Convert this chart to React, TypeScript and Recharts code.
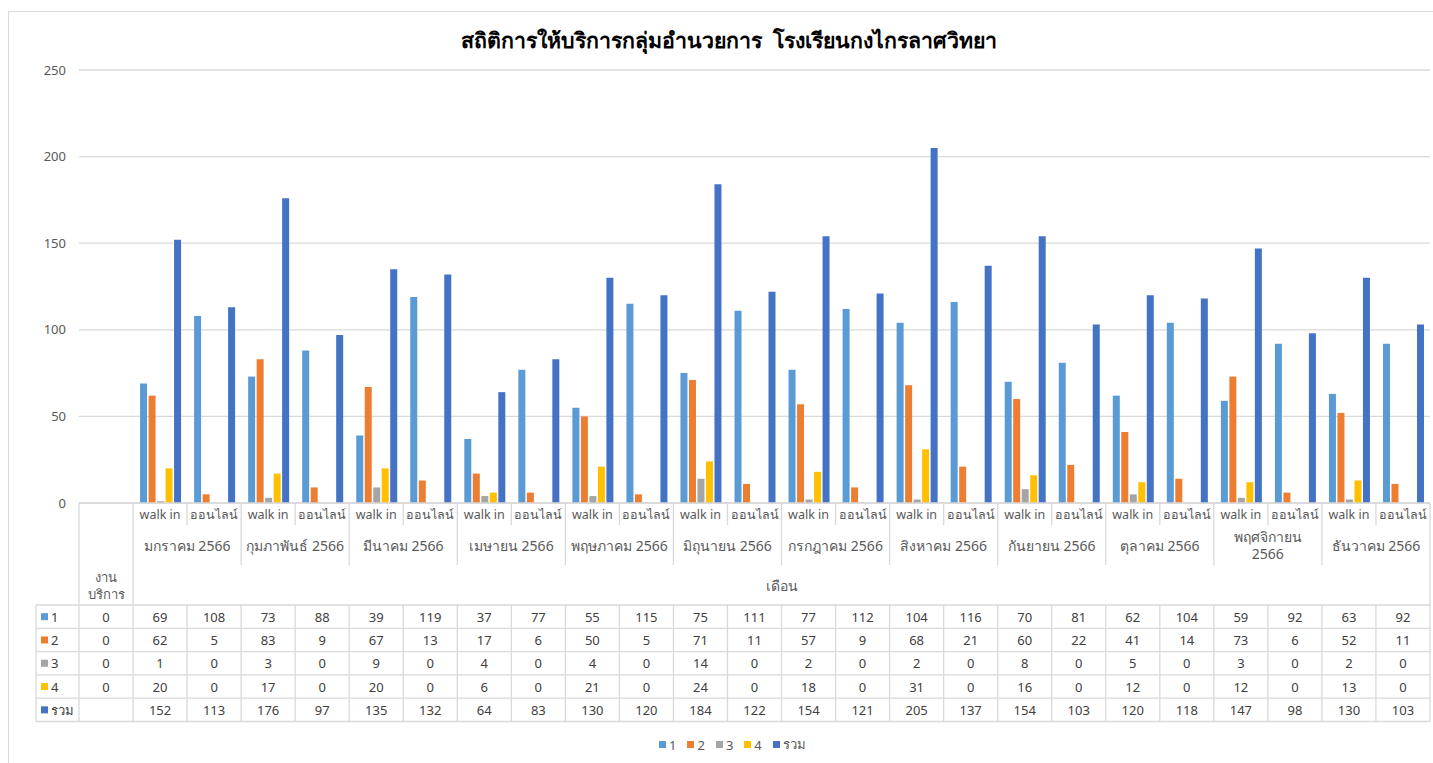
import React from 'react';
import { BarChart, Bar, XAxis, YAxis, CartesianGrid } from 'recharts';

const title = 'สถิติการให้บริการกลุ่มอำนวยการ  โรงเรียนกงไกรลาศวิทยา';
const firstCategory = 'งานบริการ';
const firstCategoryLines = ['งาน', 'บริการ'];
const groupLabel = 'เดือน';
const months = [
  'มกราคม 2566', 'กุมภาพันธ์ 2566', 'มีนาคม 2566', 'เมษายน 2566', 'พฤษภาคม 2566', 'มิถุนายน 2566',
  'กรกฎาคม 2566', 'สิงหาคม 2566', 'กันยายน 2566', 'ตุลาคม 2566', 'พฤศจิกายน 2566', 'ธันวาคม 2566',
];
const channels = ['walk in', 'ออนไลน์'];
const yTicks = [0, 50, 100, 150, 200, 250];

const seriesNames = ['1', '2', '3', '4', 'รวม'];
const seriesColors = ['#5B9BD5', '#ED7D31', '#A5A5A5', '#FFC000', '#4472C4'];

const series1 = [0, 69, 108, 73, 88, 39, 119, 37, 77, 55, 115, 75, 111, 77, 112, 104, 116, 70, 81, 62, 104, 59, 92, 63, 92];
const series2 = [0, 62, 5, 83, 9, 67, 13, 17, 6, 50, 5, 71, 11, 57, 9, 68, 21, 60, 22, 41, 14, 73, 6, 52, 11];
const series3 = [0, 1, 0, 3, 0, 9, 0, 4, 0, 4, 0, 14, 0, 2, 0, 2, 0, 8, 0, 5, 0, 3, 0, 2, 0];
const series4 = [0, 20, 0, 17, 0, 20, 0, 6, 0, 21, 0, 24, 0, 18, 0, 31, 0, 16, 0, 12, 0, 12, 0, 13, 0];
const seriesTotal = [null, 152, 113, 176, 97, 135, 132, 64, 83, 130, 120, 184, 122, 154, 121, 205, 137, 154, 103, 120, 118, 147, 98, 130, 103];

const seriesValues = [series1, series2, series3, series4, seriesTotal];
const seriesKeys = ['s1', 's2', 's3', 's4', 'total'];

type Row = { key: string; month: string | null; channel: string; [k: string]: any };

const categories: { month: string | null; channel: string }[] = [{ month: null, channel: firstCategory }];
months.forEach((m) => channels.forEach((c) => categories.push({ month: m, channel: c })));

const data: Row[] = categories.map((c, i) => {
  const row: Row = { key: 'c' + i, month: c.month, channel: c.channel };
  seriesKeys.forEach((k, s) => {
    row[k] = seriesValues[s][i];
  });
  return row;
});

const FONT = '"Noto Sans", "Open Sans", sans-serif';
const CHART_W = 1425;
const CHART_H = 755;
const Y_W = 71;
const M_RIGHT = 3;
const M_TOP = 62;
const X_H = 260;
const COLS = data.length;
const COL_W = (CHART_W - Y_W - M_RIGHT) / COLS;
const ROW_H = 23.3;
const HDR1 = 22;
const HDR2 = 62;
const HDR3 = 102;
const KEY_W = 43;
const GRID = '#d9d9d9';
const TXT = '#595959';
const VAL = '#404040';

let measureCtx: CanvasRenderingContext2D | null = null;
function textWidth(t: string, size: number) {
  if (typeof document === 'undefined') return t.length * size * 0.5;
  if (!measureCtx) measureCtx = document.createElement('canvas').getContext('2d');
  if (!measureCtx) return t.length * size * 0.5;
  measureCtx.font = `${size}px ${FONT}`;
  return measureCtx.measureText(t).width;
}

function wrapLabel(t: string, size: number, maxW: number): string[] {
  if (textWidth(t, size) <= maxW) return [t];
  const idx = t.lastIndexOf(' ');
  if (idx < 0) return [t];
  return [t.slice(0, idx), t.slice(idx + 1)];
}

function TableTick(props: any) {
  const { x, y, payload } = props;
  const i: number = payload.index;
  const d = data[i];
  const left = x - COL_W / 2;
  const right = x + COL_W / 2;
  const tableTop = y + HDR3;
  const tableBottom = tableTop + ROW_H * seriesKeys.length;
  const els: React.ReactNode[] = [];
  const line = (k: string, x1: number, y1: number, x2: number, y2: number) =>
    els.push(<line key={k} x1={x1} y1={y1} x2={x2} y2={y2} stroke={GRID} strokeWidth={1.3} />);

  seriesKeys.forEach((k, r) => {
    const v = d[k];
    els.push(
      <text key={'v' + r} x={x} y={tableTop + ROW_H * (r + 0.5)} textAnchor="middle" dominantBaseline="central"
        fontSize={13} fill={VAL} fontFamily={FONT}>
        {v === null || v === undefined ? '' : v}
      </text>
    );
  });
  line('rb', right, tableTop, right, tableBottom);

  if (i === 0) {
    const keyLeft = left - KEY_W;
    const fullRight = left + COLS * COL_W;
    line('kl', keyLeft, tableTop, keyLeft, tableBottom);
    line('l0', left, y, left, tableBottom);
    line('r0', right, y, right, tableTop);
    for (let r = 0; r <= seriesKeys.length; r++) {
      line('h' + r, keyLeft, tableTop + r * ROW_H, fullRight, tableTop + r * ROW_H);
    }
    seriesNames.forEach((n, r) => {
      const cy = tableTop + ROW_H * (r + 0.5);
      els.push(<rect key={'ks' + r} x={keyLeft + 5} y={cy - 3.5} width={7} height={7} fill={seriesColors[r]} />);
      els.push(
        <text key={'kn' + r} x={keyLeft + 15} y={cy} dominantBaseline="central" fontSize={13} fill={VAL} fontFamily={FONT}>
          {n}
        </text>
      );
    });
    firstCategoryLines.forEach((t, k) => {
      els.push(
        <text key={'fc' + k} x={x} y={y + 74 + k * 17} textAnchor="middle" dominantBaseline="central" fontSize={13}
          fill={TXT} fontFamily={FONT}>
          {t}
        </text>
      );
    });
    const groupCenter = right + ((COLS - 1) * COL_W) / 2;
    els.push(
      <text key="grp" x={groupCenter} y={y + 82} textAnchor="middle" dominantBaseline="central" fontSize={14}
        fill={TXT} fontFamily={FONT}>
        {groupLabel}
      </text>
    );
  } else {
    els.push(
      <text key="ch" x={x} y={y + 11} textAnchor="middle" dominantBaseline="central" fontSize={12.5} fill={TXT}
        fontFamily={FONT}>
        {d.channel}
      </text>
    );
    if (i % 2 === 1) {
      line('sep', right, y, right, y + HDR1);
      const mlines = wrapLabel(d.month as string, 14, 2 * COL_W - 6);
      const cy = y + 42;
      mlines.forEach((t, k) => {
        els.push(
          <text key={'m' + k} x={right} y={cy + (k - (mlines.length - 1) / 2) * 17} textAnchor="middle"
            dominantBaseline="central" fontSize={14} fill={TXT} fontFamily={FONT}>
            {t}
          </text>
        );
      });
    } else {
      line('msep', right, y, right, i === COLS - 1 ? tableTop : y + HDR2);
    }
  }
  return <g>{els}</g>;
}

export default function App() {
  return (
    <div style={{ position: 'fixed', left: 0, top: 0, width: 1433, height: 763, overflow: 'hidden', background: '#fff' }}>
      <div style={{ position: 'absolute', left: 8, top: 8, width: CHART_W, height: CHART_H, overflow: 'hidden', fontFamily: FONT, background: '#fff' }}>
        <div style={{ position: 'absolute', left: 0, top: 3, width: CHART_W + 10, height: CHART_H + 10, borderLeft: `1px solid ${GRID}`, borderTop: `1px solid ${GRID}` }} />
        <div style={{ position: 'absolute', left: 0, top: 19, width: 1442, textAlign: 'center', fontSize: 21.3, lineHeight: '26px', color: '#000', fontWeight: 600, whiteSpace: 'pre' }}>
          {title}
        </div>
        <div style={{ position: 'absolute', top: 0, left: 0 }}>
          <BarChart width={CHART_W} height={CHART_H} data={data} margin={{ top: M_TOP, right: M_RIGHT, bottom: 0, left: 0 }}
            barCategoryGap="13%" barGap={1.5}>
            <CartesianGrid vertical={false} stroke={GRID} strokeWidth={1.3} />
            <YAxis width={Y_W} domain={[0, 250]} ticks={yTicks} axisLine={false} tickLine={false} tickSize={0} tickMargin={13}
              tick={{ fontSize: 13, fill: TXT, fontFamily: FONT }} />
            <XAxis dataKey="key" height={X_H} interval={0} tickLine={false} tickSize={0} tickMargin={0}
              axisLine={{ stroke: GRID, strokeWidth: 1.3 }} tick={(p: any) => <TableTick {...p} />} />
            {seriesKeys.map((k, s) => (
              <Bar key={k} dataKey={k} name={seriesNames[s]} fill={seriesColors[s]} isAnimationActive={false} />
            ))}
          </BarChart>
        </div>
        <div style={{ position: 'absolute', left: 651, top: 726, display: 'flex', alignItems: 'center', fontSize: 13, color: TXT }}>
          {seriesNames.map((n, s) => (
            <div key={n} style={{ display: 'flex', alignItems: 'center', marginRight: 11 }}>
              <span style={{ display: 'inline-block', width: 7, height: 7, background: seriesColors[s], marginRight: 3 }} />
              <span>{n}</span>
            </div>
          ))}
        </div>
      </div>
    </div>
  );
}
